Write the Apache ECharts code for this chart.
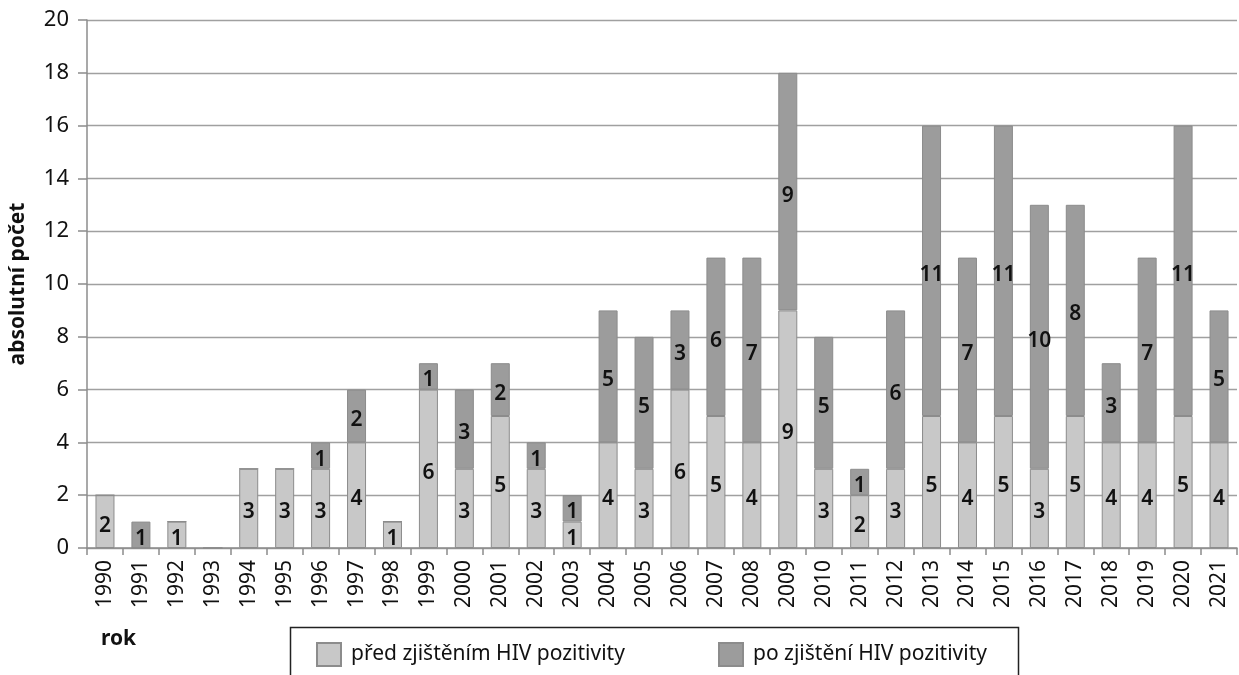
<!DOCTYPE html>
<html>
<head>
<meta charset="utf-8">
<script src="https://cdn.jsdelivr.net/npm/echarts@6/dist/echarts.min.js"></script>
<style>
  html, body { margin: 0; padding: 0; background: #fff; }
  #chart { width: 1239px; height: 675px; }
</style>
</head>
<body>
<div id="chart"></div>
<script>
var years = ['1990','1991','1992','1993','1994','1995','1996','1997','1998','1999','2000','2001','2002','2003','2004','2005',
  '2006','2007','2008','2009','2010','2011','2012','2013','2014','2015','2016','2017','2018','2019','2020','2021'];
var pred = [2,0,1,0,3,3,3,4,1,6,3,5,3,1,4,3,6,5,4,9,3,2,3,5,4,5,3,5,4,4,5,4];//před zjištěním
var po   = [0,1,0,0,0,0,1,2,0,1,3,2,1,1,5,5,3,6,7,9,5,1,6,11,7,11,10,8,3,7,11,5];//po zjištění
var yTicks = [0,2,4,6,8,10,12,14,16,18,20];
var names = ['před zjištěním HIV pozitivity', 'po zjištění HIV pozitivity'];

var fontF = '"Noto Sans", "Open Sans", sans-serif';
var cLight = '#c8c8c8', cDark = '#9c9c9c', cEdge = '#8c8c8c';

function lbl(p) {
  return p.value === 0 ? '' : p.value;
}

function leg(name, x) {
  return {
    left: x, top: 642, itemWidth: 24, itemHeight: 23, padding: 0, icon: 'rect',
    textStyle: { fontFamily: fontF, fontSize: 21, color: '#111', padding: [0, 0, 0, 5] },
    data: [name]
  };
}

var chart = echarts.init(document.getElementById('chart'));
chart.setOption({
  animation: false,
  grid: { left: 86, right: 2, top: 20, bottom: 127 },
  legend: [leg(names[0], 316), leg(names[1], 718)],
  graphic: [
    { type: 'polyline', shape: { points: [[290.5, 680], [290.5, 627.5], [1018.5, 627.5], [1018.5, 680]] },
      style: { stroke: '#222', lineWidth: 1.5, fill: null } },
    { type: 'text', left: 101, top: 629, style: { text: 'rok', font: 'bold 21px ' + fontF, fill: '#111' } }
  ],
  xAxis: {
    type: 'category', data: years,
    axisLine: { lineStyle: { color: cEdge, width: 1.5 } },
    axisTick: { show: true, length: 7, lineStyle: { color: cEdge, width: 1.5 } },
    axisLabel: { rotate: 90, fontFamily: fontF, fontSize: 21, color: '#111', margin: 12 }
  },
  yAxis: {
    type: 'value', min: yTicks[0], max: yTicks[yTicks.length - 1], interval: 2,
    name: 'absolutní počet', nameLocation: 'middle', nameGap: 58,
    nameTextStyle: { fontFamily: fontF, fontSize: 21, fontWeight: 'bold', color: '#111' },
    axisLine: { show: true, lineStyle: { color: cEdge, width: 1.5 } },
    axisTick: { show: true, length: 9, lineStyle: { color: cEdge, width: 1.5 } },
    axisLabel: { fontFamily: fontF, fontSize: 22, color: '#111', margin: 18 },
    splitLine: { lineStyle: { color: '#a0a0a0', width: 1.3 } }
  },
  series: [
    {
      name: names[0], type: 'bar', stack: 'a', data: pred, barWidth: 19,
      itemStyle: { color: cLight, borderColor: cEdge, borderWidth: 1 },
      label: { show: true, position: 'inside', formatter: lbl, fontFamily: fontF, fontSize: 21, fontWeight: 600, color: '#111', offset: [0, 4] }
    },
    {
      name: names[1], type: 'bar', stack: 'a', data: po, barWidth: 19,
      itemStyle: { color: cDark, borderColor: cEdge, borderWidth: 1 },
      label: { show: true, position: 'inside', formatter: lbl, fontFamily: fontF, fontSize: 21, fontWeight: 600, color: '#111', offset: [0, 4] }
    }
  ]
});
</script>
</body>
</html>
